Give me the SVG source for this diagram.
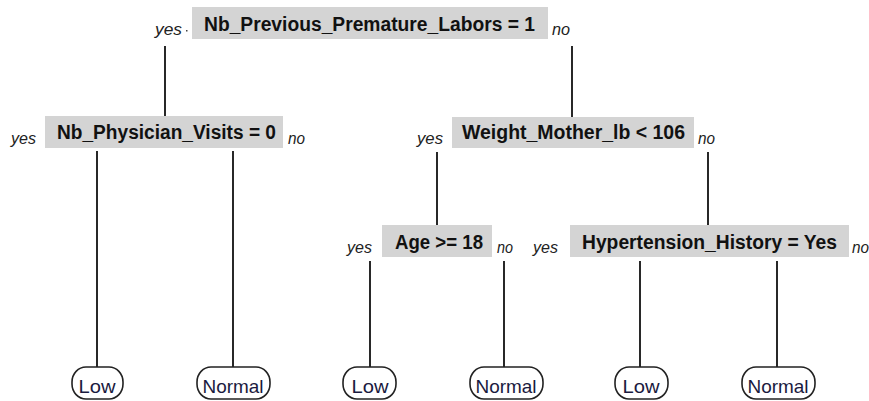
<svg xmlns="http://www.w3.org/2000/svg" width="869" height="401" viewBox="0 0 869 401">
<style>
.box{fill:#d4d4d4;stroke:none}
.lbl{font-family:"Liberation Sans",Arial,sans-serif;font-weight:bold;font-size:20px;fill:#111}
.yn{font-family:"Liberation Sans",Arial,sans-serif;font-style:italic;font-size:16px;fill:#222}
.leaf{fill:#fff;stroke:#222;stroke-width:1.6}
.lt{font-family:"Liberation Sans",Arial,sans-serif;font-size:19px;fill:#1a1a40;text-anchor:middle}
.edge{stroke:#111;stroke-width:1.8;fill:none}
</style>
<rect width="869" height="401" fill="#fff"/>
<g id="connectors">
<line class="edge" x1="165" y1="46" x2="165" y2="116"/>
<line class="edge" x1="572" y1="46" x2="572" y2="117"/>
<line class="edge" x1="97" y1="151" x2="97" y2="367"/>
<line class="edge" x1="233" y1="151" x2="233" y2="367"/>
<line class="edge" x1="437" y1="152" x2="437" y2="225"/>
<line class="edge" x1="708" y1="152" x2="708" y2="225"/>
<line class="edge" x1="370" y1="261" x2="370" y2="367"/>
<line class="edge" x1="504" y1="261" x2="504" y2="367"/>
<line class="edge" x1="640" y1="261" x2="640" y2="367"/>
<line class="edge" x1="777" y1="261" x2="777" y2="367"/>
<rect x="186" y="30" width="1.5" height="1.5" fill="#444"/>
</g>
<g id="n1">
<rect class="box" x="192" y="7" width="356" height="32"/>
<text class="lbl" x="204" y="31" textLength="331" lengthAdjust="spacingAndGlyphs">Nb_Previous_Premature_Labors = 1</text>
<text class="yn" x="155" y="35" textLength="27" lengthAdjust="spacingAndGlyphs">yes</text>
<text class="yn" x="552" y="35" textLength="18" lengthAdjust="spacingAndGlyphs">no</text>
</g>
<g id="n2">
<rect class="box" x="45" y="116" width="238" height="32"/>
<text class="lbl" x="57" y="139" textLength="219" lengthAdjust="spacingAndGlyphs">Nb_Physician_Visits = 0</text>
<text class="yn" x="11" y="144" textLength="25" lengthAdjust="spacingAndGlyphs">yes</text>
<text class="yn" x="288" y="144" textLength="17" lengthAdjust="spacingAndGlyphs">no</text>
</g>
<g id="n3">
<rect class="box" x="452" y="117" width="242" height="31"/>
<text class="lbl" x="462" y="139" textLength="223" lengthAdjust="spacingAndGlyphs">Weight_Mother_lb &lt; 106</text>
<text class="yn" x="417" y="144" textLength="26" lengthAdjust="spacingAndGlyphs">yes</text>
<text class="yn" x="698" y="144" textLength="17" lengthAdjust="spacingAndGlyphs">no</text>
</g>
<g id="n4">
<rect class="box" x="382" y="225" width="110" height="32"/>
<text class="lbl" x="395" y="249" textLength="88" lengthAdjust="spacingAndGlyphs">Age &gt;= 18</text>
<text class="yn" x="347" y="253" textLength="25" lengthAdjust="spacingAndGlyphs">yes</text>
<text class="yn" x="497" y="253" textLength="16" lengthAdjust="spacingAndGlyphs">no</text>
</g>
<g id="n5">
<rect class="box" x="570" y="225" width="279" height="32"/>
<text class="lbl" x="582" y="249" textLength="255" lengthAdjust="spacingAndGlyphs">Hypertension_History = Yes</text>
<text class="yn" x="533" y="253" textLength="25" lengthAdjust="spacingAndGlyphs">yes</text>
<text class="yn" x="852" y="253" textLength="17" lengthAdjust="spacingAndGlyphs">no</text>
</g>
<g id="leaf1"><rect class="leaf" x="72" y="367" width="51" height="32" rx="14" ry="15"/><text class="lt" x="97" y="393" textLength="37" lengthAdjust="spacingAndGlyphs">Low</text></g>
<g id="leaf2"><rect class="leaf" x="197" y="367" width="73" height="32" rx="14" ry="15"/><text class="lt" x="233" y="393" textLength="61" lengthAdjust="spacingAndGlyphs">Normal</text></g>
<g id="leaf3"><rect class="leaf" x="343" y="367" width="53" height="32" rx="14" ry="15"/><text class="lt" x="370" y="393" textLength="37" lengthAdjust="spacingAndGlyphs">Low</text></g>
<g id="leaf4"><rect class="leaf" x="470" y="367" width="73" height="32" rx="14" ry="15"/><text class="lt" x="506" y="393" textLength="61" lengthAdjust="spacingAndGlyphs">Normal</text></g>
<g id="leaf5"><rect class="leaf" x="615" y="367" width="53" height="32" rx="14" ry="15"/><text class="lt" x="641" y="393" textLength="37" lengthAdjust="spacingAndGlyphs">Low</text></g>
<g id="leaf6"><rect class="leaf" x="742" y="367" width="73" height="32" rx="14" ry="15"/><text class="lt" x="778" y="393" textLength="61" lengthAdjust="spacingAndGlyphs">Normal</text></g>
</svg>
